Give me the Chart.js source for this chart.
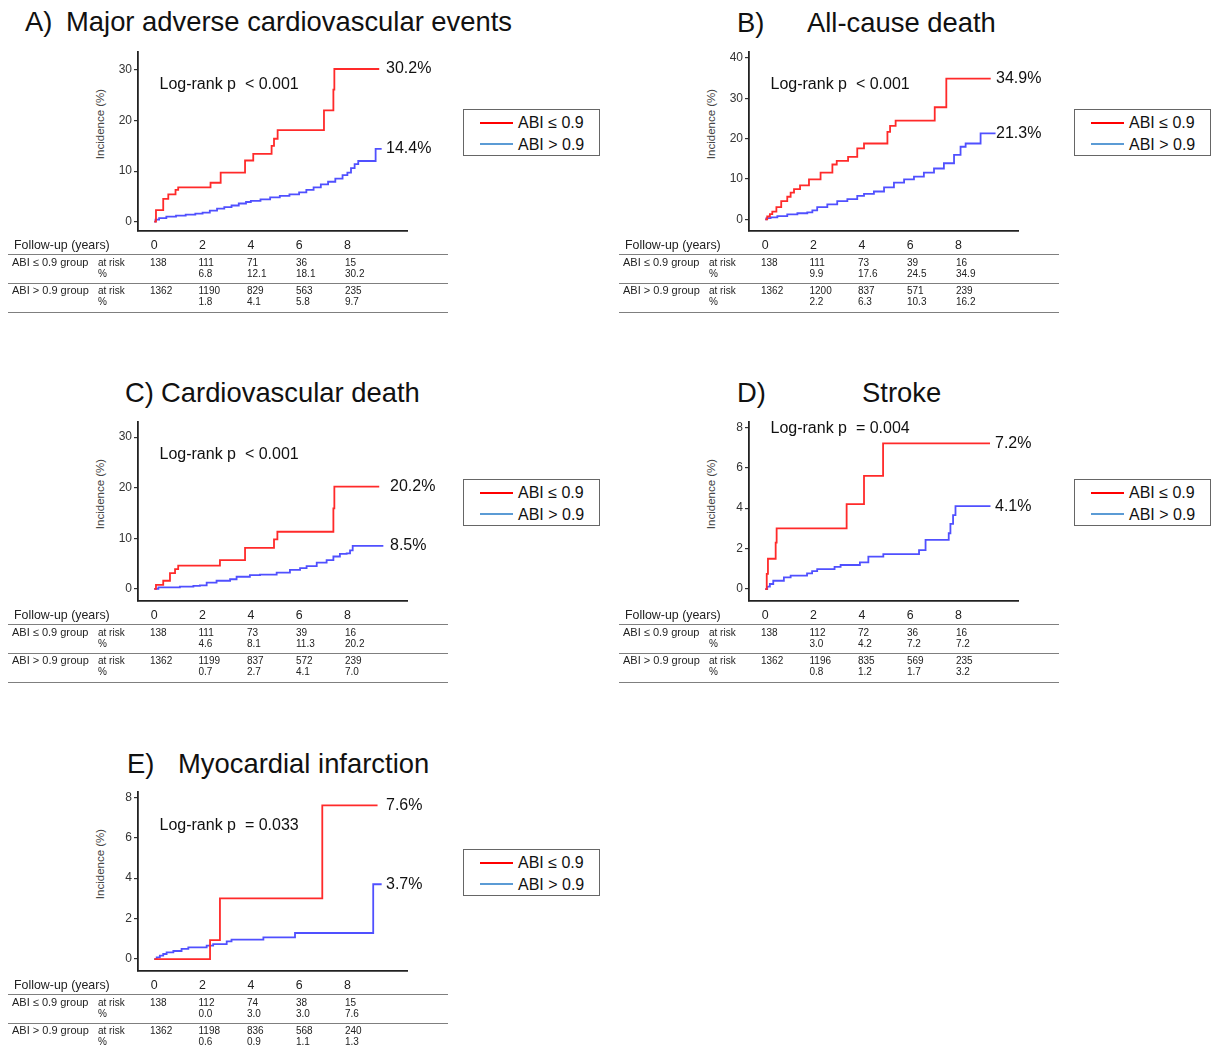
<!DOCTYPE html>
<html>
<head>
<meta charset="utf-8">
<title>ABI groups - cumulative incidence</title>
<script src="https://cdn.jsdelivr.net/npm/chart.js@4.4.1/dist/chart.umd.min.js"></script>
<style>
  body { margin: 0; background: #fff; }
  #fig { position: relative; width: 1211px; height: 1050px; overflow: hidden; font-family: Arial, "Liberation Sans", Helvetica, sans-serif; color: #111; }
  .panel { position: absolute; width: 611px; height: 370px; }
  .panel canvas { position: absolute; left: 93px; top: 42px; }
  .t { position: absolute; white-space: pre; }
  .hr { position: absolute; left: 8px; width: 440px; height: 1px; background: #7f7f7f; }
  .ytitle { position: absolute; white-space: nowrap; font-size: 11.5px; line-height: 14px; color: #444; transform: translate(-50%, -50%) rotate(-90deg); }
  .legend { position: absolute; left: 463px; top: 109px; width: 135px; height: 45px; border: 1px solid #666; }
  .legend i { position: absolute; left: 16px; width: 33px; height: 2px; }
</style>
</head>
<body>
<div id="fig"></div>
<script>
// follow-up years shown on the x axis / risk table
var followYears = [0, 2, 4, 6, 8];
var ticks30 = [0, 10, 20, 30];
var ticks40 = [0, 10, 20, 30, 40];
var ticks8 = [0, 2, 4, 6, 8];

// A) MACE  [years, cumulative incidence %]
var maceLow = [[0,0],[0.07,2.3],[0.37,4.5],[0.58,5.4],[0.88,6.3],[0.99,6.8],[2.33,7.7],[2.75,9.7],[3.76,12.1],[4.10,13.4],[4.86,15.0],[4.96,16.4],[5.11,18.1],[7.03,22.0],[7.42,26.1],[7.46,30.2],[9.32,30.2]];
var maceHigh = [[0,0],[0.05,0.4],[0.2,0.7],[0.5,1.0],[0.9,1.2],[1.3,1.4],[1.7,1.6],[2.0,1.8],[2.3,2.2],[2.6,2.6],[2.9,2.9],[3.2,3.2],[3.5,3.6],[3.8,3.9],[4.0,4.1],[4.4,4.4],[4.8,4.8],[5.2,5.1],[5.6,5.4],[6.0,5.8],[6.3,6.3],[6.6,6.8],[6.9,7.4],[7.2,7.9],[7.5,8.5],[7.8,9.2],[8.0,9.7],[8.15,10.6],[8.3,11.4],[8.45,12.0],[9.17,14.4],[9.42,14.4]];
var maceRiskLow = [138, 111, 71, 36, 15];
var macePctLow = ['', '6.8', '12.1', '18.1', '30.2'];
var maceRiskHigh = [1362, 1190, 829, 563, 235];
var macePctHigh = ['', '1.8', '4.1', '5.8', '9.7'];

// B) all-cause death
var deathLow = [[0,0],[0.08,0.7],[0.19,1.3],[0.29,1.9],[0.46,3.0],[0.66,4.5],[0.91,5.6],[1.05,6.6],[1.19,7.5],[1.44,8.4],[1.81,9.9],[2.29,11.6],[2.78,13.6],[2.96,14.5],[3.43,15.5],[3.81,17.6],[4.09,18.8],[5.06,21.7],[5.17,23.2],[5.40,24.5],[7.02,27.8],[7.50,34.9],[9.34,34.9]];
var deathHigh = [[0,0],[0.05,0.3],[0.22,0.5],[0.5,0.8],[0.91,1.2],[1.33,1.5],[1.74,1.7],[1.95,2.2],[2.15,3.0],[2.57,3.7],[2.98,4.5],[3.4,5.0],[3.81,5.8],[4.09,6.3],[4.5,6.9],[4.92,7.9],[5.33,9.1],[5.75,9.9],[6.16,10.6],[6.57,11.6],[6.99,12.6],[7.4,13.9],[7.82,16.0],[8.09,18.0],[8.3,18.8],[8.92,21.3],[9.54,21.3]];
var deathRiskLow = [138, 111, 73, 39, 16];
var deathPctLow = ['', '9.9', '17.6', '24.5', '34.9'];
var deathRiskHigh = [1362, 1200, 837, 571, 239];
var deathPctHigh = ['', '2.2', '6.3', '10.3', '16.2'];

// C) cardiovascular death
var cvLow = [[0,0],[0.07,0.8],[0.37,1.6],[0.65,3.1],[0.86,3.9],[0.99,4.6],[2.72,5.7],[3.76,8.1],[4.96,9.8],[5.10,11.3],[7.42,15.9],[7.46,20.2],[9.32,20.2]];
var cvHigh = [[0,0],[0.17,0.3],[1.06,0.45],[1.62,0.6],[1.89,0.7],[2.17,1.25],[2.58,1.6],[3.14,1.9],[3.41,2.4],[3.96,2.7],[4.38,2.8],[5.07,3.2],[5.62,3.75],[6.04,4.1],[6.31,4.5],[6.73,5.2],[7.14,5.7],[7.42,6.4],[7.69,6.9],[7.97,7.0],[8.11,7.6],[8.22,8.5],[9.49,8.5]];
var cvRiskLow = [138, 111, 73, 39, 16];
var cvPctLow = ['', '4.6', '8.1', '11.3', '20.2'];
var cvRiskHigh = [1362, 1199, 837, 572, 239];
var cvPctHigh = ['', '0.7', '2.7', '4.1', '7.0'];

// D) stroke
var strokeLow = [[0,0],[0.06,0.75],[0.11,1.5],[0.43,2.3],[0.47,3.0],[3.37,4.2],[4.09,5.6],[4.88,7.2],[9.31,7.2]];
var strokeHigh = [[0,0],[0.08,0.12],[0.19,0.25],[0.33,0.41],[0.77,0.58],[1.05,0.66],[1.73,0.78],[1.94,0.89],[2.15,0.99],[2.87,1.1],[3.12,1.19],[3.92,1.32],[4.27,1.6],[4.89,1.73],[6.37,1.93],[6.64,2.43],[7.6,2.76],[7.67,3.22],[7.78,3.66],[7.88,4.1],[9.33,4.1]];
var strokeRiskLow = [138, 112, 72, 36, 16];
var strokePctLow = ['', '3.0', '4.2', '7.2', '7.2'];
var strokeRiskHigh = [1362, 1196, 835, 569, 235];
var strokePctHigh = ['', '0.8', '1.2', '1.7', '3.2'];

// E) myocardial infarction
var miLow = [[0,0],[2.31,0.94],[2.72,3.0],[6.96,7.6],[9.25,7.6]];
var miHigh = [[0,0],[0.1,0.08],[0.23,0.17],[0.37,0.25],[0.51,0.33],[0.79,0.4],[1.13,0.5],[1.41,0.58],[2.17,0.66],[2.44,0.74],[3.0,0.87],[3.2,0.96],[4.52,1.07],[5.83,1.29],[9.07,3.7],[9.42,3.7]];
var miRiskLow = [138, 112, 74, 38, 15];
var miPctLow = ['', '0.0', '3.0', '3.0', '7.6'];
var miRiskHigh = [1362, 1198, 836, 568, 240];
var miPctHigh = ['', '0.6', '0.9', '1.1', '1.3'];

var panels = [
  {letter: 'A)', letterX: 25, name: 'Major adverse cardiovascular events', nameX: 66, titleY: 22, ox: 0, oy: 0,
   low: maceLow, high: maceHigh, yMin: -1.84, yMax: 33.56, yTicks: ticks30, pText: 'Log-rank p  < 0.001', pY: 84, labelX: 386,
   tbl: [maceRiskLow, macePctLow, maceRiskHigh, macePctHigh]},
  {letter: 'B)', letterX: 126, name: 'All-cause death', nameX: 196, titleY: 23.5, ox: 611, oy: 0,
   low: deathLow, high: deathHigh, yMin: -2.9, yMax: 41.5, yTicks: ticks40, pText: 'Log-rank p  < 0.001', pY: 84, labelX: 385,
   tbl: [deathRiskLow, deathPctLow, deathRiskHigh, deathPctHigh]},
  {letter: 'C)', letterX: 125, name: 'Cardiovascular death', nameX: 161, titleY: 23, ox: 0, oy: 370,
   low: cvLow, high: cvHigh, yMin: -2.4, yMax: 33.0, yTicks: ticks30, pText: 'Log-rank p  < 0.001', pY: 84, labelX: 390,
   tbl: [cvRiskLow, cvPctLow, cvRiskHigh, cvPctHigh]},
  {letter: 'D)', letterX: 126, name: 'Stroke', nameX: 251, titleY: 23, ox: 611, oy: 370,
   low: strokeLow, high: strokeHigh, yMin: -0.59, yMax: 8.26, yTicks: ticks8, pText: 'Log-rank p  = 0.004', pY: 58, labelX: 384,
   tbl: [strokeRiskLow, strokePctLow, strokeRiskHigh, strokePctHigh]},
  {letter: 'E)', letterX: 127, name: 'Myocardial infarction', nameX: 178, titleY: 24.5, ox: 0, oy: 740,
   low: miLow, high: miHigh, yMin: -0.59, yMax: 8.26, yTicks: ticks8, pText: 'Log-rank p  = 0.033', pY: 85, labelX: 386,
   tbl: [miRiskLow, miPctLow, miRiskHigh, miPctHigh]}
];

var colLeft = [150, 198.5, 247, 296, 345];
var CANVAS_LEFT = 93;

Chart.defaults.font.family = 'Arial, "Liberation Sans", Helvetica, sans-serif';

function addText(parent, str, left, cy, size, color) {
  var s = document.createElement('span');
  s.className = 't';
  s.textContent = str;
  s.style.left = left + 'px';
  s.style.top = (cy - size * 0.6) + 'px';
  s.style.fontSize = size + 'px';
  s.style.lineHeight = (size * 1.2) + 'px';
  if (color) s.style.color = color;
  parent.appendChild(s);
  return s;
}
function addRule(parent, y) {
  var d = document.createElement('div');
  d.className = 'hr';
  d.style.top = y + 'px';
  parent.appendChild(d);
}

function buildTable(p, riskLow, pctLow, riskHigh, pctHigh) {
  var c = '#222';
  addText(p, 'Follow-up (years)', 14, 245, 12.4, c);
  addRule(p, 254);
  addText(p, 'ABI \u2264 0.9 group', 12, 262.5, 11, c);
  addText(p, 'at risk', 98, 262.5, 10, c);
  addText(p, '%', 98, 273.5, 10, c);
  riskLow.forEach(function (v, i) { addText(p, String(v), colLeft[i], 262.5, 10, c); });
  pctLow.forEach(function (v, i) { addText(p, v, colLeft[i], 273.5, 10, c); });
  addRule(p, 283);
  addText(p, 'ABI > 0.9 group', 12, 291, 11, c);
  addText(p, 'at risk', 98, 291, 10, c);
  addText(p, '%', 98, 302, 10, c);
  riskHigh.forEach(function (v, i) { addText(p, String(v), colLeft[i], 291, 10, c); });
  pctHigh.forEach(function (v, i) { addText(p, v, colLeft[i], 302, 10, c); });
  addRule(p, 312);
}

function buildLegend(p) {
  var box = document.createElement('div');
  box.className = 'legend';
  var r = document.createElement('i');
  r.style.top = '12px'; r.style.background = '#ff0000';
  var b = document.createElement('i');
  b.style.top = '33px'; b.style.background = '#5b9bd5';
  box.appendChild(r); box.appendChild(b);
  addText(box, 'ABI \u2264 0.9', 54, 13, 16, '#111');
  addText(box, 'ABI > 0.9', 54, 35, 16, '#111');
  p.appendChild(box);
}

// percentage written at the end of each curve
var endLabels = {
  id: 'endLabels',
  afterDatasetsDraw: function (chart, args, opts) {
    var ctx = chart.ctx;
    ctx.save();
    ctx.font = '16px Arial, "Liberation Sans", sans-serif';
    ctx.fillStyle = '#111';
    ctx.textBaseline = 'middle';
    chart.data.datasets.forEach(function (ds, i) {
      var pts = chart.getDatasetMeta(i).data;
      var last = pts[pts.length - 1];
      var v = ds.data[ds.data.length - 1].y;
      ctx.fillText(v.toFixed(1) + '%', opts.x, last.y);
    });
    ctx.restore();
  }
};

function toXY(arr) {
  return arr.map(function (d) { return {x: d[0], y: d[1]}; });
}

var fig = document.getElementById('fig');

panels.forEach(function (cfg) {
  var p = document.createElement('div');
  p.className = 'panel';
  p.style.left = cfg.ox + 'px';
  p.style.top = cfg.oy + 'px';
  fig.appendChild(p);

  addText(p, cfg.letter, cfg.letterX, cfg.titleY, 27.4, '#111');
  addText(p, cfg.name, cfg.nameX, cfg.titleY, 27.4, '#111');

  var yt = document.createElement('span');
  yt.className = 'ytitle';
  yt.textContent = 'Incidence (%)';
  yt.style.left = '100px';
  yt.style.top = '124px';
  p.appendChild(yt);

  var cv = document.createElement('canvas');
  cv.width = 352;
  cv.height = 219;
  cv.style.width = '352px';
  cv.style.height = '219px';
  p.appendChild(cv);

  addText(p, cfg.pText, 159.5, cfg.pY, 16, '#111');

  buildTable(p, cfg.tbl[0], cfg.tbl[1], cfg.tbl[2], cfg.tbl[3]);
  buildLegend(p);

  new Chart(cv, {
    type: 'line',
    data: {
      datasets: [
        {label: 'ABI \u2264 0.9', data: toXY(cfg.low), borderColor: '#ff2a2a', borderWidth: 1.8, stepped: true, pointRadius: 0, fill: false},
        {label: 'ABI > 0.9', data: toXY(cfg.high), borderColor: '#5050ff', borderWidth: 1.8, stepped: true, pointRadius: 0, fill: false}
      ]
    },
    options: {
      responsive: false,
      animation: false,
      devicePixelRatio: 1,
      layout: {padding: {top: 10, right: 38, left: 0, bottom: 0}},
      plugins: {
        legend: {display: false},
        tooltip: {enabled: false},
        endLabels: {x: cfg.labelX - CANVAS_LEFT}
      },
      scales: {
        x: {
          type: 'linear', min: -0.675, max: 10.47,
          afterBuildTicks: function (s) { s.ticks = followYears.map(function (v) { return {value: v}; }); },
          afterFit: function (s) { s.height = 30; },
          grid: {display: false, drawTicks: false},
          border: {display: true, color: '#222', width: 1.8},
          ticks: {padding: 7, color: '#222', font: {size: 12.4}, maxRotation: 0}
        },
        y: {
          type: 'linear', min: cfg.yMin, max: cfg.yMax,
          afterBuildTicks: function (s) { s.ticks = cfg.yTicks.map(function (v) { return {value: v}; }); },
          afterFit: function (s) { s.width = 45; },
          grid: {display: true, drawOnChartArea: false, drawTicks: true, tickLength: 4, color: '#333', lineWidth: 1.2},
          border: {display: true, color: '#222', width: 1.8},
          ticks: {padding: 2, color: '#333', font: {size: 12}}
        }
      }
    },
    plugins: [endLabels]
  });
});
</script>
</body>
</html>
